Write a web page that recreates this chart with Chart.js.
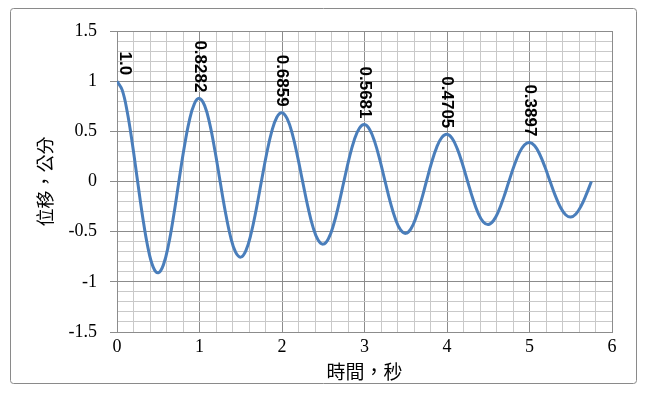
<!DOCTYPE html>
<html>
<head>
<meta charset="utf-8">
<script src="https://cdn.jsdelivr.net/npm/chart.js@4/dist/chart.umd.min.js"></script>
<style>
  html, body { margin: 0; padding: 0; background: #ffffff; }
  #wrap { width: 650px; height: 394px; position: relative; }
</style>
</head>
<body>
<div id="wrap"><canvas id="c" width="650" height="394"></canvas></div>
<script>
// ---- data ----
const times = [
  0, 0.0625, 0.125, 0.1875, 0.25, 0.3125, 0.375, 0.4375, 0.5, 0.5625, 0.625, 0.6875, 0.75, 0.8125, 0.875, 0.9375,
  1, 1.0625, 1.125, 1.1875, 1.25, 1.3125, 1.375, 1.4375, 1.5, 1.5625, 1.625, 1.6875, 1.75, 1.8125, 1.875, 1.9375,
  2, 2.0625, 2.125, 2.1875, 2.25, 2.3125, 2.375, 2.4375, 2.5, 2.5625, 2.625, 2.6875, 2.75, 2.8125, 2.875, 2.9375,
  3, 3.0625, 3.125, 3.1875, 3.25, 3.3125, 3.375, 3.4375, 3.5, 3.5625, 3.625, 3.6875, 3.75, 3.8125, 3.875, 3.9375,
  4, 4.0625, 4.125, 4.1875, 4.25, 4.3125, 4.375, 4.4375, 4.5, 4.5625, 4.625, 4.6875, 4.75, 4.8125, 4.875, 4.9375,
  5, 5.0625, 5.125, 5.1875, 5.25, 5.3125, 5.375, 5.4375, 5.5, 5.5625, 5.625, 5.6875, 5.75];
const displacement = [
  1.0, 0.9131, 0.6906, 0.3694, 0, -0.3608, -0.6589, -0.8507, -0.9101, -0.8309, -0.6285, -0.3362, 0, 0.3283, 0.5996, 0.7742,
  0.8282, 0.7562, 0.5720, 0.3059, 0, -0.2988, -0.5457, -0.7046, -0.7537, -0.6882, -0.5205, -0.2784, 0, 0.2719, 0.4966, 0.6412,
  0.6859, 0.6263, 0.4737, 0.2534, 0, -0.2475, -0.4519, -0.5835, -0.6242, -0.5699, -0.4311, -0.2306, 0, 0.2252, 0.4113, 0.5311,
  0.5681, 0.5187, 0.3923, 0.2098, 0, -0.2050, -0.3743, -0.4833, -0.5170, -0.4720, -0.3570, -0.1910, 0, 0.1865, 0.3406, 0.4398,
  0.4705, 0.4296, 0.3249, 0.1738, 0, -0.1697, -0.3100, -0.4003, -0.4282, -0.3909, -0.2957, -0.1582, 0, 0.1545, 0.2821, 0.3643,
  0.3897, 0.3558, 0.2691, 0.1439, 0, -0.1406, -0.2567, -0.3315, -0.3546, -0.3238, -0.2449, -0.1310, 0];
const peakTimes = [0, 1, 2, 3, 4, 5];
const peakValues = [1.0, 0.8282, 0.6859, 0.5681, 0.4705, 0.3897];
const peakLabels = ['1.0', '0.8282', '0.6859', '0.5681', '0.4705', '0.3897'];
const xAxisTitle = '時間，秒';
const yAxisTitle = '位移，公分';

// ---- styling ----
const MAJOR = '#8c8c8c';
const MINOR = '#c9c9c9';
const isMult = (v, m) => Math.abs(Math.round(v / m) * m - v) < 1e-6;

const borderPlugin = {
  id: 'outerBorder',
  beforeDraw(chart) {
    const ctx = chart.ctx;
    ctx.save();
    ctx.fillStyle = '#ffffff';
    ctx.fillRect(0, 0, chart.width, chart.height);
    ctx.strokeStyle = '#8a8a8a';
    ctx.lineWidth = 1;
    ctx.beginPath();
    if (ctx.roundRect) ctx.roundRect(10.5, 8.5, 626, 375, 3);
    else ctx.rect(10.5, 8.5, 626, 375);
    ctx.stroke();
    ctx.restore();
  }
};

const labelPlugin = {
  id: 'peakLabels',
  afterDatasetsDraw(chart) {
    const meta = chart.getDatasetMeta(1);
    const ctx = chart.ctx;
    const area = chart.chartArea;
    ctx.save();
    ctx.fillStyle = '#000000';
    ctx.font = 'bold 17px "Liberation Sans", Arial, sans-serif';
    ctx.textAlign = 'right';
    ctx.textBaseline = 'middle';
    meta.data.forEach((pt, i) => {
      const x = Math.max(pt.x, area.left + 8);
      const y = pt.y - 6;
      ctx.save();
      ctx.translate(x, y);
      ctx.rotate(Math.PI / 2);
      ctx.fillText(peakLabels[i], 0, 0);
      ctx.restore();
    });
    ctx.restore();
  }
};

new Chart(document.getElementById('c'), {
  type: 'line',
  data: {
    datasets: [{
      data: times.map((t, i) => ({ x: t, y: displacement[i] })),
      borderColor: '#4a7ebb',
      borderWidth: 3,
      pointRadius: 0,
      fill: false,
      tension: 0.4
    }, {
      data: peakTimes.map((t, i) => ({ x: t, y: peakValues[i] })),
      showLine: false,
      pointRadius: 0,
      borderColor: 'transparent',
      backgroundColor: 'transparent'
    }]
  },
  options: {
    responsive: false,
    animation: false,
    devicePixelRatio: 1,
    layout: { padding: { top: 31, right: 38, bottom: 0, left: 0 } },
    plugins: { legend: { display: false }, tooltip: { enabled: false } },
    scales: {
      x: {
        type: 'linear',
        min: 0, max: 6,
        afterFit(s) { s.height = 62; },
        border: { color: MAJOR, width: 1 },
        grid: {
          drawTicks: false,
          color: c => isMult(c.tick.value, 1) ? MAJOR : MINOR,
          lineWidth: 1
        },
        ticks: {
          stepSize: 0.2,
          autoSkip: false,
          maxRotation: 0,
          maxTicksLimit: 100,
          padding: 4,
          color: '#000000',
          font: { family: '"Liberation Serif", "Times New Roman", serif', size: 18 },
          callback: v => isMult(v, 1) ? String(Math.round(v)) : ''
        },
        title: {
          display: true,
          text: xAxisTitle,
          color: '#000000',
          font: { family: '"Noto Sans CJK TC", "Noto Sans CJK SC", serif', size: 19 },
          padding: { top: 0, bottom: 11 }
        }
      },
      y: {
        type: 'linear',
        min: -1.5, max: 1.5,
        afterFit(s) { s.width = 117; },
        border: { color: MAJOR, width: 1 },
        grid: {
          tickLength: 7,
          color: c => isMult(c.tick.value, 0.5) ? MAJOR : MINOR,
          tickColor: c => isMult(c.tick.value, 0.5) ? MAJOR : 'transparent',
          lineWidth: 1
        },
        ticks: {
          stepSize: 0.1,
          autoSkip: false,
          maxTicksLimit: 100,
          padding: 13,
          color: '#000000',
          font: { family: '"Liberation Serif", "Times New Roman", serif', size: 18 },
          callback: v => isMult(v, 0.5) ? String(Math.round(v * 10) / 10) : ''
        },
        title: {
          display: true,
          text: yAxisTitle,
          color: '#000000',
          font: { family: '"Noto Sans CJK TC", "Noto Sans CJK SC", serif', size: 18 },
          padding: { top: 34, bottom: 0 }
        }
      }
    }
  },
  plugins: [borderPlugin, labelPlugin]
});
</script>
</body>
</html>
